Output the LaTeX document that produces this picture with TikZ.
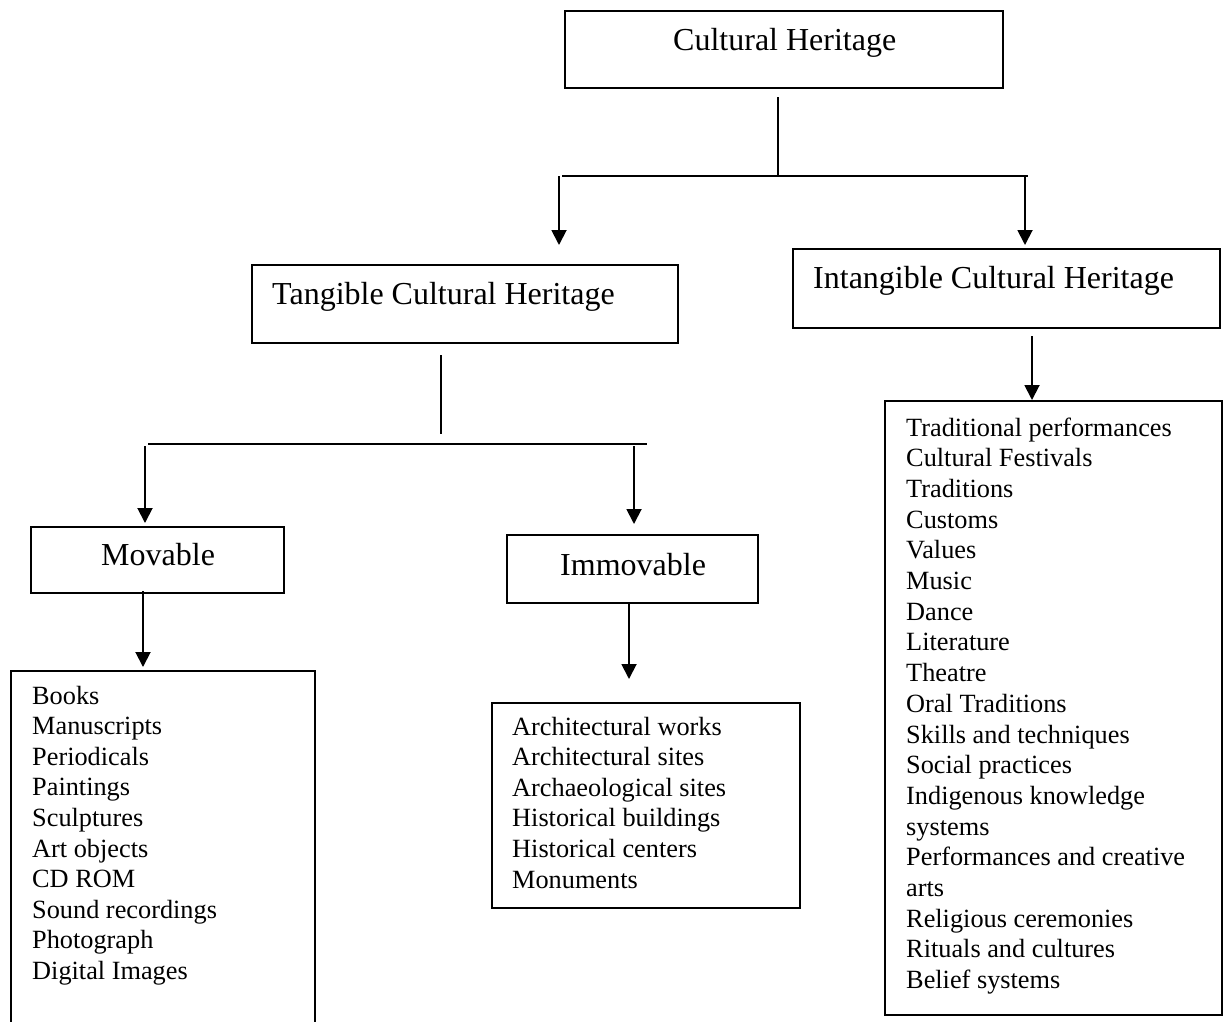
\documentclass[tikz,border=0pt]{standalone}
\usepackage{fontspec}
\setmainfont{Liberation Serif}
\usetikzlibrary{arrows.meta}
\begin{document}
\begin{tikzpicture}[x=1pt,y=-1pt,
  box/.style={draw,line width=1.8pt,inner sep=0pt,rectangle},
  headtext/.style={anchor=base west,inner sep=0pt,font=\fontsize{32}{38}\selectfont},
  listtext/.style={anchor=base west,inner sep=0pt,font=\fontsize{26.3}{30}\selectfont},
  conn/.style={line width=1.9pt},
  arr/.style={line width=1.9pt,-{Triangle[width=15pt,length=15pt]}}]
\useasboundingbox (0,0) rectangle (1223,1021);

% boxes
\node[box,minimum width=438pt,minimum height=77pt] (ch) at (784,49.5) {};
\node[box,minimum width=426pt,minimum height=78pt] (tch) at (465,304) {};
\node[box,minimum width=427pt,minimum height=79pt] (ich) at (1006.5,288.5) {};
\node[box,minimum width=253pt,minimum height=66pt] (mov) at (157.5,560) {};
\node[box,minimum width=251pt,minimum height=68pt] (imm) at (632.5,569) {};
\node[box,minimum width=304pt,minimum height=380pt] (movlist) at (163,861) {};
\node[box,minimum width=308pt,minimum height=205pt] (immlist) at (646,805.5) {};
\node[box,minimum width=337pt,minimum height=614pt] (ichlist) at (1053.5,708) {};

% titles
\node[headtext] (chtxt) at (673,50) {Cultural Heritage};
\node[headtext] (tchtxt) at (272,304) {Tangible Cultural Heritage};
\node[headtext] (ichtxt) at (813,288) {Intangible Cultural Heritage};
\node[headtext] (movtxt) at (101,565) {Movable};
\node[headtext] (immtxt) at (560,575) {Immovable};

% lists
\foreach \t [count=\i] in {Books,Manuscripts,Periodicals,Paintings,Sculptures,Art objects,CD ROM,Sound recordings,Photograph,Digital Images}
  \node[listtext] (ml\i) at (32,{704+30.6*(\i-1)}) {\t};
\foreach \t [count=\i] in {Architectural works,Architectural sites,Archaeological sites,Historical buildings,Historical centers,Monuments}
  \node[listtext] (il\i) at (512,{735+30.6*(\i-1)}) {\t};
\foreach \t [count=\i] in {Traditional performances,Cultural Festivals,Traditions,Customs,Values,Music,Dance,Literature,Theatre,Oral Traditions,Skills and techniques,Social practices,Indigenous knowledge,systems,Performances and creative,arts,Religious ceremonies,Rituals and cultures,Belief systems}
  \node[listtext] (cl\i) at (906,{436+30.7*(\i-1)}) {\t};

% connector coordinates
\coordinate (chS) at (778,97);
\coordinate (chJ) at (778,176);
\coordinate (chL) at (562,176);
\coordinate (chR) at (1028,176);
\coordinate (aTs) at (559,176);
\coordinate (aTe) at (559,245);
\coordinate (aIs) at (1025,176);
\coordinate (aIe) at (1025,245);

\coordinate (tS) at (441,355);
\coordinate (tJ) at (441,434);
\coordinate (tL) at (148,444);
\coordinate (tR) at (647,444);
\coordinate (aMs) at (145,446);
\coordinate (aMe) at (145,523);
\coordinate (aIms) at (634,446);
\coordinate (aIme) at (634,524);

\coordinate (mS) at (143,591);
\coordinate (mE) at (143,667);
\coordinate (iS) at (629,603);
\coordinate (iE) at (629,679);
\coordinate (cS) at (1032,336);
\coordinate (cE) at (1032,400);

\draw[conn] (chS) -- (chJ);
\draw[conn] (chL) -- (chR);
\draw[arr] (aTs) -- (aTe);
\draw[arr] (aIs) -- (aIe);

\draw[conn] (tS) -- (tJ);
\draw[conn] (tL) -- (tR);
\draw[arr] (aMs) -- (aMe);
\draw[arr] (aIms) -- (aIme);

\draw[arr] (mS) -- (mE);
\draw[arr] (iS) -- (iE);
\draw[arr] (cS) -- (cE);
\end{tikzpicture}
\end{document}
